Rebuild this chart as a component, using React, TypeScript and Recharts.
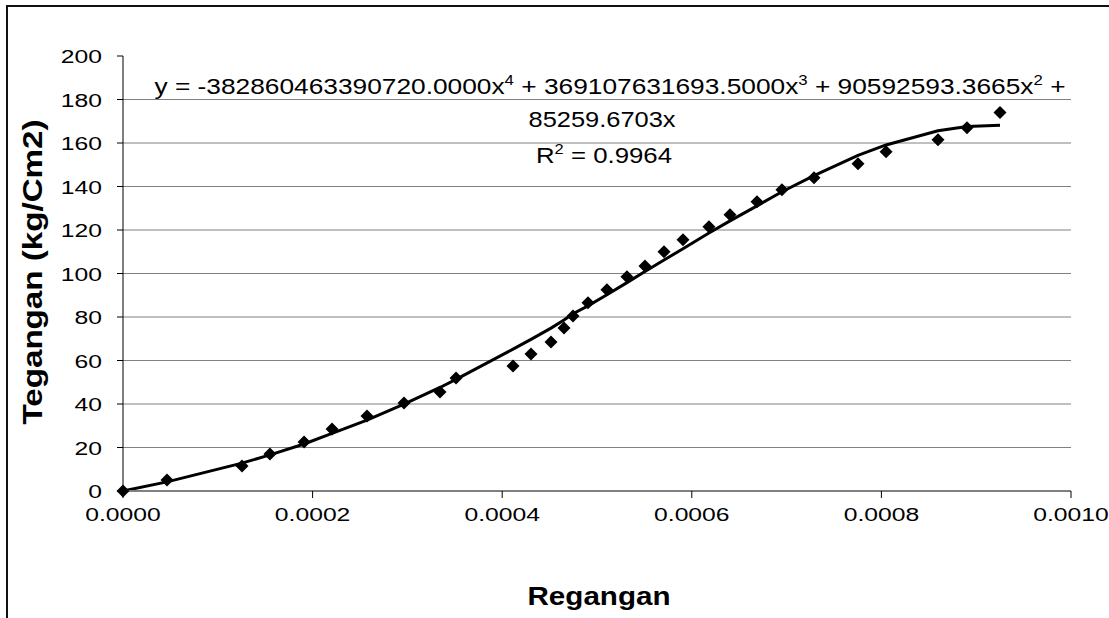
import React from 'react';
import { ComposedChart, XAxis, YAxis, Scatter, Line, ReferenceLine } from 'recharts';

// Regangan (strain) values of the measured points
const strain = [
  0, 0.0000464, 0.0001255, 0.000155, 0.000191, 0.0002205, 0.0002574, 0.0002964,
  0.0003344, 0.0003513, 0.0004114, 0.0004304, 0.0004515, 0.0004652, 0.0004747,
  0.0004905, 0.0005105, 0.0005316, 0.0005506, 0.0005707, 0.0005907, 0.0006181,
  0.0006403, 0.0006688, 0.0006951, 0.0007289, 0.0007753, 0.0008049, 0.0008597,
  0.0008903, 0.0009251,
];
// Tegangan (stress) values of the measured points
const stress = [
  0, 5.1, 11.5, 17.0, 22.5, 28.5, 34.5, 40.5, 45.5, 52.0, 57.5, 63.0, 68.5, 75.0,
  80.5, 86.5, 92.5, 98.5, 103.5, 110.0, 115.5, 121.5, 127.0, 133.0, 138.5, 144.0,
  150.5, 156.0, 161.5, 167.0, 174.0,
];
// Trendline values at the same strains
const trendStress = [
  0, 4.2, 12.8, 16.6, 21.6, 26.5, 32.6, 39.9, 47.6, 51.3, 65.2, 69.7, 74.9, 78.6,
  81.5, 85.1, 90.2, 95.8, 100.9, 106.2, 111.4, 118.6, 124.2, 131.1, 137.6, 145.0,
  154.3, 159.1, 165.6, 167.6, 168.2,
];

const xTicks = [0, 0.0002, 0.0004, 0.0006, 0.0008, 0.001];
const yTicks = [0, 20, 40, 60, 80, 100, 120, 140, 160, 180, 200];
const gridValues = [20, 40, 60, 80, 100, 120, 140, 160, 180];

const points = strain.map((x, i) => ({ x, y: stress[i] }));
const trend = strain.map((x, i) => ({ x, y: trendStress[i] }));

const FONT = '"Liberation Sans", Arial, Helvetica, sans-serif';

const Diamond = (props: any) => {
  const { cx, cy } = props;
  if (cx == null || cy == null) return null;
  const r = 6.5;
  return (
    <polygon
      points={`${cx},${cy - r} ${cx + r},${cy} ${cx},${cy + r} ${cx - r},${cy}`}
      fill="#000"
    />
  );
};

const YTick = (props: any) => {
  const { x, y, payload } = props;
  return (
    <text
      transform={`translate(${x},${y}) scale(1.3,1)`}
      textAnchor="end"
      dy={7}
      fontSize={19}
      fontFamily={FONT}
      fill="#000"
    >
      {payload.value}
    </text>
  );
};

const XTick = (props: any) => {
  const { x, y, payload } = props;
  return (
    <text
      transform={`translate(${x},${y}) scale(1.3,1)`}
      textAnchor="middle"
      dy={21}
      fontSize={19}
      fontFamily={FONT}
      fill="#000"
    >
      {Number(payload.value).toFixed(4)}
    </text>
  );
};

export default function App() {
  return (
    <div style={{ position: 'absolute', left: 0, top: 0, width: 1109, height: 618, background: '#fff' }}>
      <ComposedChart
        width={1109}
        height={618}
        margin={{ top: 56, right: 38, bottom: 0, left: 0 }}
      >
        {gridValues.map((v) => (
          <ReferenceLine key={v} y={v} stroke="#808080" strokeWidth={1} />
        ))}
        <XAxis
          type="number"
          dataKey="x"
          domain={[0, 0.001]}
          ticks={xTicks}
          height={127}
          tickSize={7}
          tickMargin={2}
          axisLine={{ stroke: '#808080', strokeWidth: 2 }}
          tickLine={{ stroke: '#000', strokeWidth: 1 }}
          tick={<XTick />}
          interval={0}
        />
        <YAxis
          type="number"
          dataKey="y"
          domain={[0, 200]}
          ticks={yTicks}
          width={123}
          tickSize={6}
          tickMargin={15}
          axisLine={{ stroke: '#000', strokeWidth: 1 }}
          tickLine={{ stroke: '#000', strokeWidth: 1 }}
          tick={<YTick />}
          interval={0}
        />
        <Scatter data={points} dataKey="y" shape={<Diamond />} isAnimationActive={false} />
        <Line
          data={trend}
          dataKey="y"
          type="linear"
          stroke="#000"
          strokeWidth={3}
          dot={false}
          activeDot={false}
          isAnimationActive={false}
        />
      </ComposedChart>
      <svg
        width={1109}
        height={618}
        style={{ position: 'absolute', left: 0, top: 0, pointerEvents: 'none' }}
      >
        <path d="M7 620 V6 H1112" stroke="#111" strokeWidth={2} fill="none" />
        <text
          x={610}
          y={94}
          fontSize={22}
          fontFamily={FONT}
          textAnchor="middle"
          textLength={911}
          lengthAdjust="spacingAndGlyphs"
          fill="#000"
        >
          {'y = -382860463390720.0000x'}
          <tspan dy={-9} fontSize={14}>4</tspan>
          <tspan dy={9}>{' + 369107631693.5000x'}</tspan>
          <tspan dy={-9} fontSize={14}>3</tspan>
          <tspan dy={9}>{' + 90592593.3665x'}</tspan>
          <tspan dy={-9} fontSize={14}>2</tspan>
          <tspan dy={9}>{' +'}</tspan>
        </text>
        <text
          x={602}
          y={127}
          fontSize={22}
          fontFamily={FONT}
          textAnchor="middle"
          textLength={147}
          lengthAdjust="spacingAndGlyphs"
          fill="#000"
        >
          85259.6703x
        </text>
        <text
          x={604}
          y={163}
          fontSize={22}
          fontFamily={FONT}
          textAnchor="middle"
          textLength={136}
          lengthAdjust="spacingAndGlyphs"
          fill="#000"
        >
          R
          <tspan dy={-9} fontSize={14}>2</tspan>
          <tspan dy={9}>{' = 0.9964'}</tspan>
        </text>
        <text
          x={599}
          y={605}
          fontSize={26}
          fontWeight="bold"
          fontFamily={FONT}
          textAnchor="middle"
          textLength={143}
          lengthAdjust="spacingAndGlyphs"
          fill="#000"
        >
          Regangan
        </text>
        <text
          transform="translate(42,272) rotate(-90)"
          fontSize={27}
          fontWeight="bold"
          fontFamily={FONT}
          textAnchor="middle"
          textLength={305}
          lengthAdjust="spacingAndGlyphs"
          fill="#000"
        >
          Tegangan (kg/Cm2)
        </text>
      </svg>
    </div>
  );
}
